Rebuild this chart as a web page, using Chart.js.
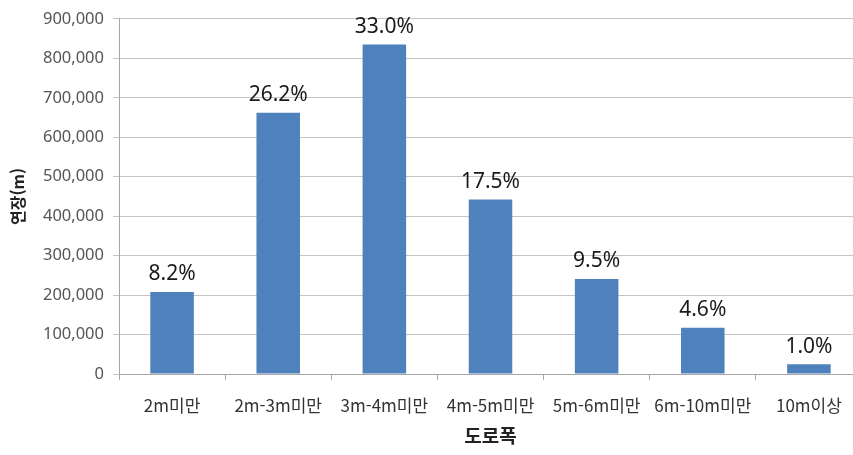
<!DOCTYPE html>
<html lang="ko">
<head>
  <meta charset="UTF-8">
  <title>도로폭별 연장</title>
  <script src="https://cdn.jsdelivr.net/npm/chart.js"></script>
  <style>
    html, body { margin: 0; padding: 0; background: #fff; overflow: hidden; }
    #wrap { width: 853px; height: 455px; overflow: hidden; }
  </style>
</head>
<body>
  <div id="wrap">
    <canvas id="chart" width="862" height="455"></canvas>
  </div>
  <script>

const widths = ['2m미만', '2m-3m미만', '3m-4m미만', '4m-5m미만', '5m-6m미만', '6m-10m미만', '10m이상'];
const lengths = [208000, 662000, 835000, 442000, 241000, 117000, 25000];
const yTicks = [0, 100000, 200000, 300000, 400000, 500000, 600000, 700000, 800000, 900000];

const total = lengths.reduce((a, b) => a + b, 0);
const shares = lengths.map(v => (v / total * 100).toFixed(1) + '%');

const korFont = "'Malgun Gothic', 'Noto Sans CJK KR', sans-serif";

// share of total written above each bar
const shareLabels = {
  id: 'shareLabels',
  afterDatasetsDraw(chart) {
    const ctx = chart.ctx;
    const meta = chart.getDatasetMeta(0);
    ctx.save();
    ctx.font = "21px 'Noto Sans', sans-serif";
    ctx.fillStyle = '#1a1a1a';
    ctx.textAlign = 'center';
    ctx.textBaseline = 'bottom';
    meta.data.forEach((bar, i) => {
      ctx.fillText(shares[i], bar.x, bar.y - 7);
    });
    ctx.restore();
  }
};

const ctx = document.getElementById('chart');
new Chart(ctx, {
  type: 'bar',
  data: {
    labels: widths,
    datasets: [{
      data: lengths,
      backgroundColor: '#4f81bd',
      barPercentage: 0.41,
      categoryPercentage: 1
    }]
  },
  options: {
    responsive: false,
    animation: false,
    layout: { padding: { top: 17, left: 0, right: 0, bottom: 4 } },
    plugins: {
      legend: { display: false },
      tooltip: { enabled: false }
    },
    scales: {
      x: {
        grid: { display: true, drawOnChartArea: false, offset: true, tickLength: 6, color: '#a6a6a6' },
        border: { color: '#a6a6a6' },
        ticks: { color: '#333', font: { family: korFont, size: 17 }, padding: 15, maxRotation: 0 },
        title: { display: true, text: '도로폭', color: '#222', font: { family: korFont, size: 19, weight: 'bold' }, padding: { top: 12 } },
        afterFit: s => { s.height = 77; }
      },
      y: {
        min: 0,
        max: 900000,
        afterBuildTicks: s => { s.ticks = yTicks.map(v => ({ value: v })); },
        grid: { color: '#c4c4c4', tickLength: 6 },
        border: { color: '#a6a6a6' },
        ticks: {
          color: '#555',
          font: { family: "'Noto Sans', sans-serif", size: 16.5 },
          padding: 9,
          callback: v => v.toLocaleString('en-US')
        },
        title: { display: true, text: '연장(m)', color: '#222', font: { family: korFont, size: 16, weight: 'bold' }, padding: { top: 8, bottom: 0 } },
        afterFit: s => { s.width = 119; }
      }
    }
  },
  plugins: [shareLabels]
});

  </script>
</body>
</html>
